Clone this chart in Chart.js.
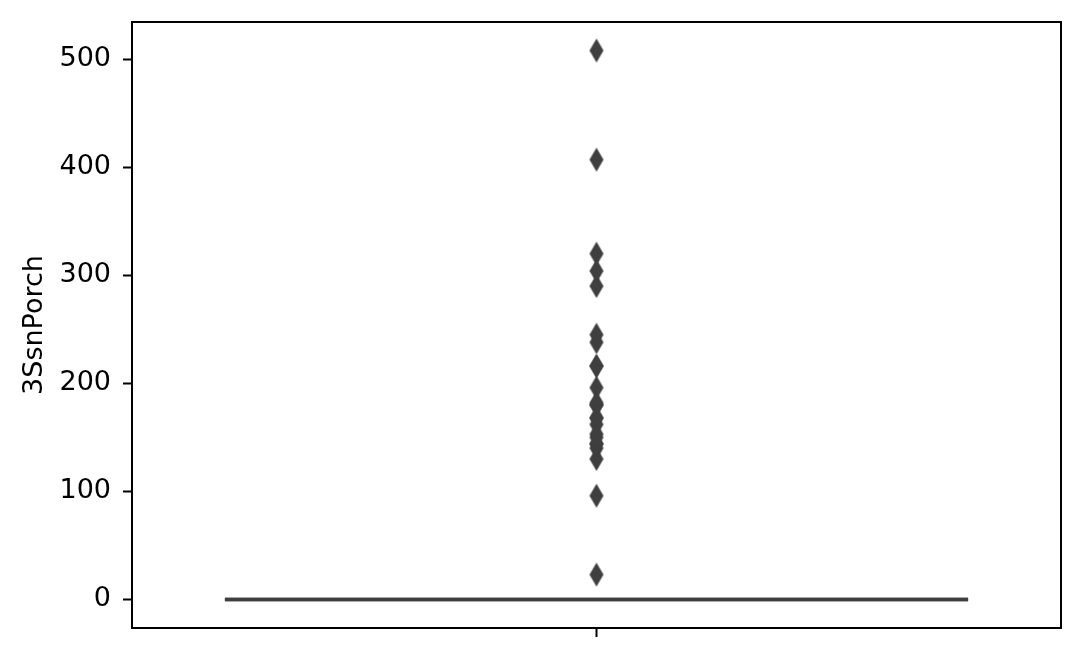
<!DOCTYPE html>
<html>
<head>
<meta charset="utf-8">
<script src="https://cdn.jsdelivr.net/npm/chart.js@4/dist/chart.umd.min.js"></script>
<style>
  html, body { margin: 0; padding: 0; background: #ffffff; }
  #wrap { width: 1085px; height: 651px; }
</style>
</head>
<body>
<div id="wrap"><canvas id="c" width="1085" height="651"></canvas></div>
<script>
// ---- data ----
const categories = [''];
const axisLabel = '3SsnPorch';
const whiskerLow = [0];
const q1 = [0];
const median = [0];
const q3 = [0];
const whiskerHigh = [0];
const outliers = [320, 407, 130, 180, 168, 180, 140, 508, 238, 245, 196, 144, 144, 182, 168, 162, 23, 216, 96, 216, 153, 290, 304, 150];
const yTicks = [0, 100, 200, 300, 400, 500];

// ---- styles ----
const lineGray = '#3f3f3f';
const FONT = 'DejaVu Sans';

function diamond() {
  const w = 14, h = 24;
  const cv = document.createElement('canvas');
  cv.width = w + 2; cv.height = h + 2;
  const g = cv.getContext('2d');
  g.fillStyle = lineGray;
  g.beginPath();
  g.moveTo(cv.width / 2, 1);
  g.lineTo(cv.width - 1, cv.height / 2);
  g.lineTo(cv.width / 2, cv.height - 1);
  g.lineTo(1, cv.height / 2);
  g.closePath();
  g.fill();
  return cv;
}

const dataMax = Math.max(...outliers, ...whiskerHigh);
const dataMin = Math.min(...outliers, ...whiskerLow);
const margin = (dataMax - dataMin) * 0.052;

const boxPlugin = {
  id: 'boxPlugin',
  beforeDatasetsDraw(chart) {
    const { ctx, scales: { x, y } } = chart;
    const boxW = 0.8, capW = 0.4;
    categories.forEach((c, i) => {
      const xl = x.getPixelForValue(i - boxW / 2);
      const xr = x.getPixelForValue(i + boxW / 2);
      const cl = x.getPixelForValue(i - capW / 2);
      const cr = x.getPixelForValue(i + capW / 2);
      const xc = x.getPixelForValue(i);
      ctx.save();
      ctx.strokeStyle = lineGray;
      ctx.lineWidth = 3.5;
      const yq1 = y.getPixelForValue(q1[i]);
      const yq3 = y.getPixelForValue(q3[i]);
      ctx.strokeRect(xl, yq3, xr - xl, yq1 - yq3);
      ctx.beginPath();
      ctx.moveTo(xc, yq1); ctx.lineTo(xc, y.getPixelForValue(whiskerLow[i]));
      ctx.moveTo(xc, yq3); ctx.lineTo(xc, y.getPixelForValue(whiskerHigh[i]));
      ctx.stroke();
      ctx.strokeStyle = '#474747';
      ctx.lineWidth = 3;
      ctx.beginPath();
      ctx.moveTo(cl, y.getPixelForValue(whiskerLow[i])); ctx.lineTo(cr, y.getPixelForValue(whiskerLow[i]));
      ctx.moveTo(cl, y.getPixelForValue(whiskerHigh[i])); ctx.lineTo(cr, y.getPixelForValue(whiskerHigh[i]));
      ctx.stroke();
      ctx.strokeStyle = lineGray;
      ctx.lineWidth = 3.5;
      ctx.beginPath();
      ctx.moveTo(xl, y.getPixelForValue(median[i])); ctx.lineTo(xr, y.getPixelForValue(median[i]));
      ctx.stroke();
      ctx.restore();
    });
  },
  afterDraw(chart) {
    const { ctx, chartArea: a } = chart;
    ctx.save();
    ctx.strokeStyle = '#000000';
    ctx.lineWidth = 2;
    ctx.strokeRect(a.left, a.top, a.right - a.left, a.bottom - a.top);
    ctx.restore();
  }
};

new Chart(document.getElementById('c'), {
  type: 'scatter',
  data: {
    datasets: [{
      label: 'outliers',
      data: outliers.map(v => ({ x: 0, y: v })),
      pointStyle: diamond(),
      pointRadius: 8,
      pointHoverRadius: 8
    }]
  },
  options: {
    responsive: false,
    animation: false,
    events: [],
    layout: { padding: { top: 22, right: 24, left: 0, bottom: 0 } },
    plugins: { legend: { display: false }, tooltip: { enabled: false } },
    scales: {
      x: {
        type: 'linear',
        min: -0.5,
        max: 0.5,
        afterBuildTicks(s) { s.ticks = categories.map((c, i) => ({ value: i })); },
        afterFit(s) { s.height = 23; s.paddingLeft = 0; s.paddingRight = 0; },
        border: { display: true, color: '#000', width: 2 },
        grid: { drawOnChartArea: false, drawTicks: true, tickLength: 9, tickColor: '#000', tickWidth: 2 },
        ticks: { callback: (v, i) => categories[i] ?? '', font: { family: FONT, size: 27 }, color: '#000' }
      },
      y: {
        type: 'linear',
        min: dataMin - margin,
        max: dataMax + margin,
        afterBuildTicks(s) { s.ticks = yTicks.map(v => ({ value: v })); },
        afterFit(s) { s.width = 132; s.paddingTop = 0; s.paddingBottom = 0; },
        border: { display: true, color: '#000', width: 2 },
        grid: { drawOnChartArea: false, drawTicks: true, tickLength: 9, tickColor: '#000', tickWidth: 2 },
        ticks: { font: { family: FONT, size: 27 }, color: '#000', padding: 12, callback: v => String(v) },
        title: { display: true, text: axisLabel, font: { family: FONT, size: 27 }, color: '#000', padding: { top: 19, bottom: 0 } }
      }
    }
  },
  plugins: [boxPlugin]
});
</script>
</body>
</html>
